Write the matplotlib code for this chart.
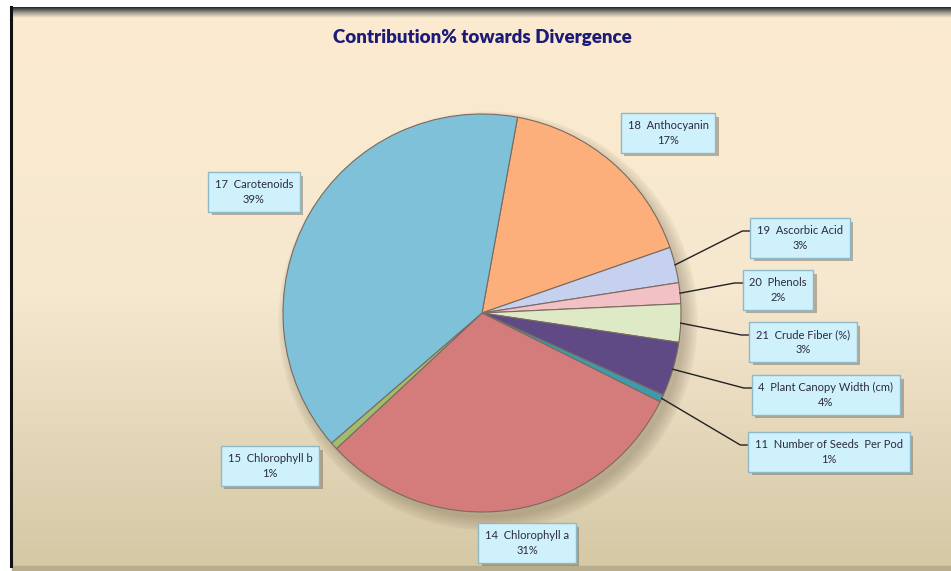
import numpy as np
import matplotlib
matplotlib.use("Agg")
import matplotlib.pyplot as plt
import matplotlib.patheffects as pe
from matplotlib.colors import LinearSegmentedColormap

# data (clockwise from top)
names = ['18  Anthocyanin', '19  Ascorbic Acid', '20  Phenols', '21  Crude Fiber (%)',
         '4  Plant Canopy Width (cm)', '11  Number of Seeds  Per Pod', '14  Chlorophyll a',
         '15  Chlorophyll b', '17  Carotenoids']
values = [16.8, 2.9, 1.7, 3.1, 4.4, 0.6, 30.7, 0.6, 39.2]
colors = ['#FDAF7B', '#C6D1EF', '#F2C1C5', '#DEE9C6', '#5F4A86', '#3C9BAC',
          '#D47C7C', '#A0BC6C', '#7FC1D8']

# label box centres in pixels (x, y from top), and whether a leader line is drawn
label_pos = [(668, 133), (800, 238), (778, 290), (803, 342), (826, 395),
             (829, 452), (527, 543), (270, 466), (254, 192)]
leaders = [False, True, True, True, True, True, False, False, False]

W, H = 951, 571
fig = plt.figure(figsize=(W / 100, H / 100), dpi=100)
ax = fig.add_axes([0, 0, 1, 1])
ax.set_xlim(0, W)
ax.set_ylim(0, H)
ax.axis('off')

# background gradient
bg = LinearSegmentedColormap.from_list('bg', ['#FCEBCF', '#F5E8D0', '#D5C8A5'])
grad = np.linspace(0, 1, 256).reshape(-1, 1)
ax.imshow(grad, cmap=bg, extent=[12, W, 5, H - 18], aspect='auto', zorder=0)
# top gray band and frame
band = LinearSegmentedColormap.from_list('band', ['#222222', '#9A9A90', '#FCEBCF'])
ax.imshow(np.linspace(0, 1, 64).reshape(-1, 1), cmap=band,
          extent=[12, W, H - 18, H - 7], aspect='auto', zorder=1)
ax.plot([11, 11], [5, H - 7], color='#111111', lw=2.2, zorder=2)
ax.fill_between([12, W], 0, 5, color='#B9AD8E', zorder=1)

cx, cy, r = 482, H - 313, 199

# soft shadow
for i in range(10):
    sh = plt.Circle((cx + 6, cy - 8), r + 10 - i * 1.5, color='#6A5A40', alpha=0.035, zorder=2)
    ax.add_patch(sh)

start = 90 - 10.3
wedges, _ = ax.pie(values, colors=colors, startangle=start, counterclock=False,
                   center=(cx, cy), radius=r, frame=True,
                   wedgeprops=dict(edgecolor='#7A6A60', linewidth=0.8))
for w in wedges:
    w.set_zorder(3)
ax.set_xlim(0, W)
ax.set_ylim(0, H)
ax.set_aspect('auto')
ax.axis('off')

total = sum(values)
fig.canvas.draw()
for i, w in enumerate(wedges):
    pct = round(values[i] / total * 100)
    lx, ly = label_pos[i]
    ly = H - ly
    t = ax.text(lx, ly, f'{names[i]}\n{pct}%', ha='center', va='center',
                fontsize=8, family='Lato', color='#2A2A40', linespacing=1.45, zorder=6,
                bbox=dict(boxstyle='square,pad=0.6', facecolor='#CFF1FB',
                          edgecolor='#8FB9C9', linewidth=1.0))
    t.get_bbox_patch().set_path_effects([pe.withSimplePatchShadow(offset=(2.5, -2.5),
                                                                  shadow_rgbFace='#6E6050',
                                                                  alpha=0.45)])
    if leaders[i]:
        mid = np.deg2rad((w.theta1 + w.theta2) / 2)
        px = cx + r * np.cos(mid)
        py = cy + r * np.sin(mid)
        fig.canvas.draw()
        bb = t.get_bbox_patch().get_window_extent().transformed(ax.transData.inverted())
        bx = bb.x0
        ax.plot([px, bx - 8, bx], [py, ly + 7, ly + 7], color='#222222', lw=1.0, zorder=5)

ax.text(482, H - 38, 'Contribution% towards Divergence', ha='center', va='center',
        fontsize=13.5, fontweight='heavy', family='Lato', color='#1C1C78', zorder=6)

fig.savefig('out.png', dpi=100)
